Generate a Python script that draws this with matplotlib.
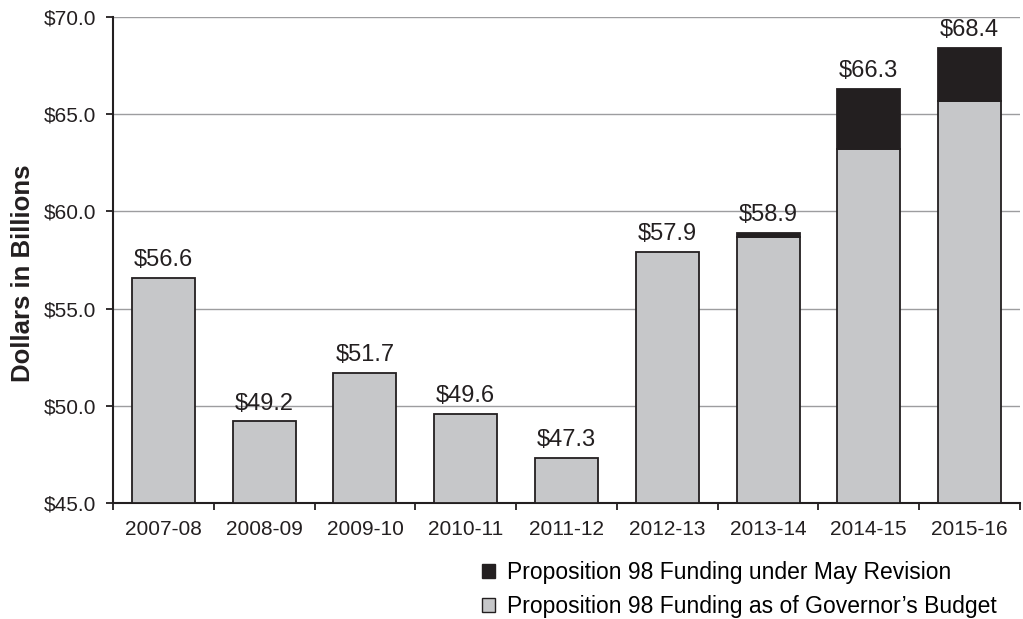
import matplotlib
matplotlib.use("Agg")
import matplotlib.pyplot as plt
import numpy as np
from matplotlib.patches import Patch

plt.rcParams['font.family'] = ['Liberation Sans', 'DejaVu Sans']

years = ["2007-08", "2008-09", "2009-10", "2010-11", "2011-12",
         "2012-13", "2013-14", "2014-15", "2015-16"]
governors_budget = [56.6, 49.2, 51.7, 49.6, 47.3, 57.9, 58.7, 63.2, 65.7]
may_revision_total = [56.6, 49.2, 51.7, 49.6, 47.3, 57.9, 58.9, 66.3, 68.4]
yticks = [45.0, 50.0, 55.0, 60.0, 65.0, 70.0]

gray = "#c6c7c9"
black = "#231f20"
edge = "#231f20"

fig = plt.figure(figsize=(10.23, 6.19), dpi=100)
ax = fig.add_axes([0.1105, 0.1874, 0.8865, 0.7851])

x = np.arange(len(years))
base = 45.0
gb = np.array(governors_budget)
tot = np.array(may_revision_total)
extra = tot - gb

ax.bar(x, gb - base, bottom=base, width=0.625, color=gray, edgecolor=edge, linewidth=1.3, zorder=3)
mask = extra > 0.001
ax.bar(x[mask], extra[mask], bottom=gb[mask], width=0.625, color=black, edgecolor=edge, linewidth=1.3, zorder=3)

for xi, t in zip(x, tot):
    ax.text(xi, t + 0.35, f"${t:.1f}", ha="center", va="bottom", fontsize=17, color="#231f20")

ax.set_xlim(-0.5, len(years) - 0.5)
ax.set_ylim(45, 70)
ax.set_yticks(yticks)
ax.set_yticklabels([f"${v:.1f}" for v in yticks], fontsize=15, color="#231f20")
ax.set_xticks(x)
ax.set_xticklabels(years, fontsize=15, color="#231f20")
ax.set_xticks(np.arange(-0.5, len(years)), minor=True)
ax.tick_params(axis="x", which="major", length=0, pad=12)
ax.tick_params(axis="x", which="minor", length=5, width=1.3, color=edge, direction="out")
ax.tick_params(axis="y", length=5, width=1.3, color=edge, direction="out", pad=7)

ax.yaxis.grid(True, color="#9d9d9f", linewidth=1.0, zorder=0)
ax.set_axisbelow(True)
for s in ["top", "right"]:
    ax.spines[s].set_visible(False)
for s in ["left", "bottom"]:
    ax.spines[s].set_color(edge)
    ax.spines[s].set_linewidth(1.5)

ax.set_ylabel("Dollars in Billions", fontsize=18.5, fontweight="bold", color="#231f20")
ax.yaxis.set_label_coords(-0.086, 0.473)

handles = [Patch(facecolor=black, edgecolor=edge, linewidth=1.0, label="Proposition 98 Funding under May Revision"),
           Patch(facecolor=gray, edgecolor=edge, linewidth=1.0, label="Proposition 98 Funding as of Governor\u2019s Budget")]
fig.legend(handles=handles, loc="upper left", bbox_to_anchor=(0.471, 0.093), frameon=False,
           fontsize=16.5, handlelength=0.57, handleheight=0.57, handletextpad=0.52,
           labelspacing=0.45, borderaxespad=0, borderpad=0)

fig.savefig("out.png", dpi=100)
